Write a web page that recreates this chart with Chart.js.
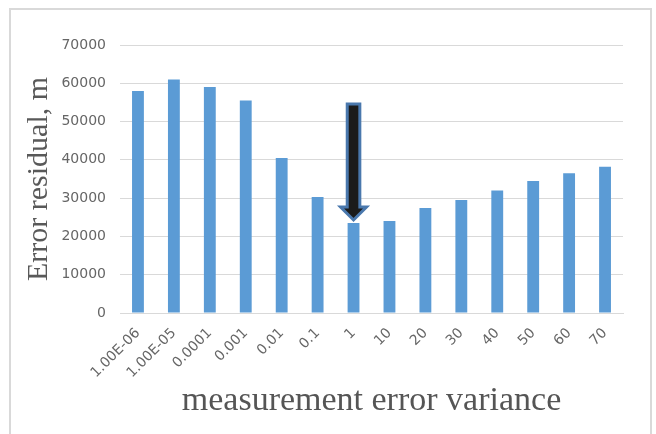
<!DOCTYPE html>
<html><head><meta charset="utf-8">
<script src="https://cdn.jsdelivr.net/npm/chart.js@4/dist/chart.umd.min.js"></script>
<style>
html,body{margin:0;padding:0;background:#fff;}
#wrap{position:relative;width:656px;height:434px;overflow:hidden;}
#frame{position:absolute;left:9px;top:8px;width:643px;height:440px;border:2px solid #d9d9d9;box-sizing:border-box;}
canvas{position:absolute;left:0;top:0;}
</style></head><body>
<div id="wrap"><div id="frame"></div><canvas id="c" width="656" height="434"></canvas></div>
<script>
const categories = ['1.00E-06','1.00E-05','0.0001','0.001','0.01','0.1','1','10','20','30','40','50','60','70'];
const residuals = [58000, 61000, 59000, 55500, 40500, 30300, 23500, 24000, 27400, 29500, 32000, 34500, 36500, 38200];
const yMin = 0;
const yMax = 70000;
const yStep = 10000;
const arrowCategory = '1';
const arrowFromValue = 54600;
const arrowToValue = 24300;

const arrowPlugin = {
  id: 'arrowMark',
  afterDatasetsDraw(chart) {
    const ctx = chart.ctx;
    const x = chart.scales.x.getPixelForValue(categories.indexOf(arrowCategory));
    const y0 = chart.scales.y.getPixelForValue(arrowFromValue);
    const y1 = chart.scales.y.getPixelForValue(arrowToValue);
    const sw = 6.3, hw = 13, hl = 13;
    ctx.save();
    ctx.beginPath();
    ctx.moveTo(x - sw, y0);
    ctx.lineTo(x + sw, y0);
    ctx.lineTo(x + sw, y1 - hl);
    ctx.lineTo(x + hw, y1 - hl);
    ctx.lineTo(x, y1);
    ctx.lineTo(x - hw, y1 - hl);
    ctx.lineTo(x - sw, y1 - hl);
    ctx.closePath();
    ctx.fillStyle = '#1b1b1b';
    ctx.fill();
    ctx.lineWidth = 3;
    ctx.lineJoin = 'miter';
    ctx.strokeStyle = '#4a78ad';
    ctx.stroke();
    ctx.restore();
  }
};

new Chart(document.getElementById('c'), {
  type: 'bar',
  data: {
    labels: categories,
    datasets: [{
      data: residuals,
      backgroundColor: '#5b9bd5',
      borderWidth: 0,
      barPercentage: 0.33,
      categoryPercentage: 1
    }]
  },
  options: {
    responsive: false,
    animation: false,
    devicePixelRatio: 1,
    layout: { padding: { left: 12, right: 33, top: 45, bottom: 4 } },
    plugins: { legend: { display: false }, tooltip: { enabled: false } },
    scales: {
      x: {
        grid: { display: false },
        border: { display: true, color: '#d9d9d9', width: 1 },
        ticks: {
          autoSkip: false, maxRotation: 45, minRotation: 45, padding: 4,
          font: { family: 'DejaVu Sans', size: 14 }, color: '#666'
        },
        title: {
          display: true, text: 'measurement error variance',
          font: { family: 'Liberation Serif', size: 34 }, color: '#555',
          padding: { top: 0, bottom: 9 }
        },
        afterFit(s) { s.height = 434 - 4 - 313; }
      },
      y: {
        min: yMin, max: yMax,
        ticks: {
          stepSize: yStep, padding: 14,
          font: { family: 'DejaVu Sans', size: 14 }, color: '#666',
          callback: v => String(v)
        },
        grid: { color: '#d9d9d9', drawTicks: false, lineWidth: 1 },
        border: { display: false },
        title: {
          display: true, text: 'Error residual, m',
          font: { family: 'Liberation Serif', size: 30 }, color: '#595959',
          padding: { top: 9, bottom: 0 }
        },
        afterFit(s) { s.width = 120 - 12; }
      }
    }
  },
  plugins: [arrowPlugin]
});
</script>
</body></html>
